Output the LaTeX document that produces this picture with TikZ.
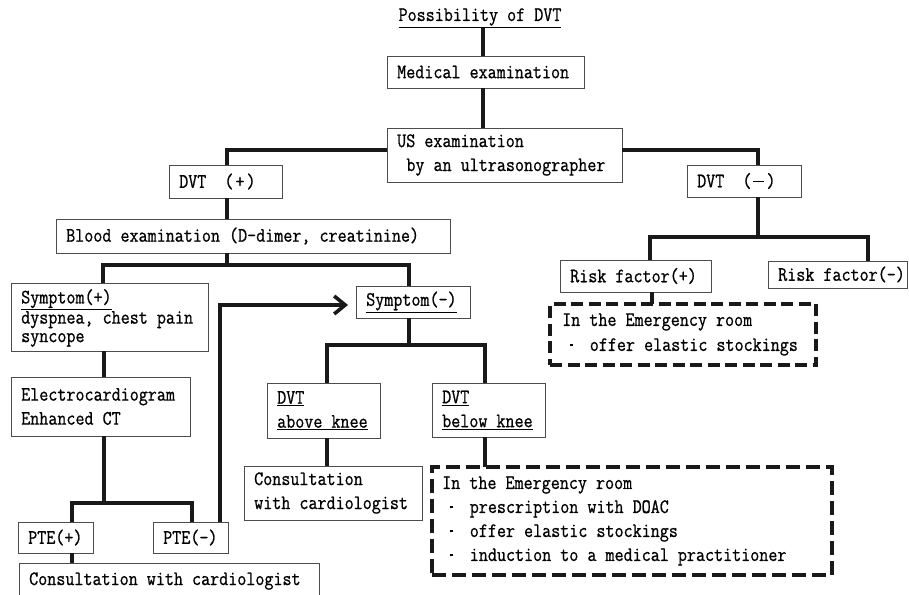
\documentclass[tikz,border=0pt]{standalone}
\usepackage{fontspec}
\newfontfamily\mono[FakeStretch=0.857,FakeBold=0.8]{Latin Modern Mono}
\usetikzlibrary{arrows.meta}
\newcommand\bul{\makebox[18.4pt]{\raisebox{4.5pt}{\rule{2.8pt}{2.8pt}}}\hspace{9.2pt}}
\newcommand\mdash{\raisebox{5.2pt}{\rule{11pt}{1.1pt}}}
\newcommand\bx[6]{%
  \node[boxst, minimum width={#4-#2}, minimum height={#5-#3}] (#1) at (#2,#3) {};
  \node[txt] (#1t) at ([xshift=10pt]#1.west) {#6};}
\begin{document}
\begin{tikzpicture}[x=1pt,y=-1pt,
  conn/.style={line width=3.6pt, draw=black!90},
  boxst/.style={draw=black!70, line width=0.9pt, inner sep=0pt, outer sep=0pt, anchor=north west},
  dbox/.style={draw=black!90, line width=4.5pt, inner sep=0pt, outer sep=0pt, anchor=north west},
  txt/.style={inner sep=0pt, anchor=west, align=left, font=\mono\fontsize{20.5}{24}\selectfont},
]
\useasboundingbox (0,0) rectangle (909,594);

% title
\node[txt, anchor=center] (title) at (480,18) {\underline{Possibility of DVT}};

% boxes
\bx{med}{387}{56}{584}{88}{Medical examination}
\bx{us}{387}{128}{622}{182}{US examination\\\hspace*{9.2pt}by an ultrasonographer}
\bx{dvtp}{169}{165}{282}{198}{DVT\ \ (\kern2pt+\kern2pt)}
\bx{dvtn}{687}{165}{801}{197}{DVT\ \ (\kern2pt\mdash\kern2pt)}
\bx{blood}{56}{219}{450}{253}{Blood examination (D-dimer, creatinine)}
\node[boxst, minimum width=197, minimum height=68] (symp) at (11,283) {};
\node[txt, font=\mono\fontsize{20.5}{18.5}\selectfont] (sympt) at ([xshift=10pt,yshift=-1pt]symp.west) {\underline{Symptom(+)}\\dyspnea, chest pain\\syncope};
\bx{symn}{356}{286}{470}{318}{\underline{Symptom(-)}}
\bx{ecg}{11}{377}{190}{436}{Electrocardiogram\\Enhanced CT}
\bx{dva}{267}{383}{380}{438}{\underline{DVT}\\\underline{above knee}}
\bx{dvb}{432}{383}{545}{437}{\underline{DVT}\\\underline{below knee}}
\bx{conm}{244}{466}{422}{520}{Consultation\\with cardiologist}
\bx{ptep}{18}{522}{93}{553}{PTE(+)}
\bx{pten}{153}{522}{228}{553}{PTE(-)}
\node[boxst, minimum width=300, minimum height=45] (conb) at (19,563) {};
\node[txt] (conbt) at (29,581) {Consultation with cardiologist};
\bx{riskp}{560}{260}{711}{292}{Risk factor(+)}
\bx{riskn}{768}{261}{907}{288}{Risk factor(-)}

% dashed boxes
\node[dbox, dash pattern=on 14pt off 6pt, minimum width=400, minimum height=108] (erl) at (432,467) {};
\node[txt] (erlt) at ([xshift=10pt]erl.west) {In the Emergency room\\\bul prescription with DOAC\\\bul offer elastic stockings\\\bul induction to a medical practitioner};
\node[dbox, dash pattern=on 12pt off 5.5pt, minimum width=266, minimum height=61] (eru) at (550,304) {};
\node[txt, font=\mono\fontsize{20.5}{25}\selectfont] (erut) at ([xshift=12pt]eru.west) {In the Emergency room\\\bul offer elastic stockings};

% junctions
\coordinate (j1) at (227,265);
\coordinate (j2) at (104,503);
\coordinate (j3) at (409,345);
\coordinate (j4) at (758,237);

% connectors
\draw[conn] (title.south -| 483,0) -- (med.north -| 483,0);
\draw[conn] (med.south -| 483,0) -- (us.north -| 483,0);
\draw[conn] (us.west |- 0,150) -| (dvtp.north -| 227,0);
\draw[conn] (us.east |- 0,150) -| (dvtn.north -| 758,0);
\draw[conn] (dvtp.south -| 227,0) -- (blood.north -| 227,0);
\draw[conn] (blood.south -| 227,0) -- (j1);
\draw[conn] (symp.north -| 103,0) |- (j1) -| (symn.north -| 409,0);
\draw[conn] (symp.south -| 104,0) -- (ecg.north -| 104,0);
\draw[conn] (ecg.south -| 104,0) -- (j2);
\draw[conn] (ptep.north -| 72,0) |- (j2) -| (pten.north -| 192,0);
\draw[conn] (ptep.south -| 72,0) -- (conb.north -| 72,0);
\draw[conn, -{Straight Barb[length=11pt,width=18pt]}] ([xshift=-8pt]pten.north east) |- ([xshift=-8pt,yshift=-3pt]symn.west);
\draw[conn] (symn.south -| 409,0) -- (j3);
\draw[conn] (dva.north -| 327,0) |- (j3) -| (dvb.north -| 485,0);
\draw[conn] (dva.south -| 327,0) -- (conm.north -| 327,0);
\draw[conn] (dvb.south -| 485,0) -- (erl.north -| 485,0);
\draw[conn] (dvtn.south -| 758,0) -- (j4);
\draw[conn] (riskp.north -| 650,0) |- (j4) -| (riskn.north -| 868,0);
\draw[conn] (riskp.south -| 652,0) -- (eru.north -| 652,0);
\end{tikzpicture}
\end{document}
